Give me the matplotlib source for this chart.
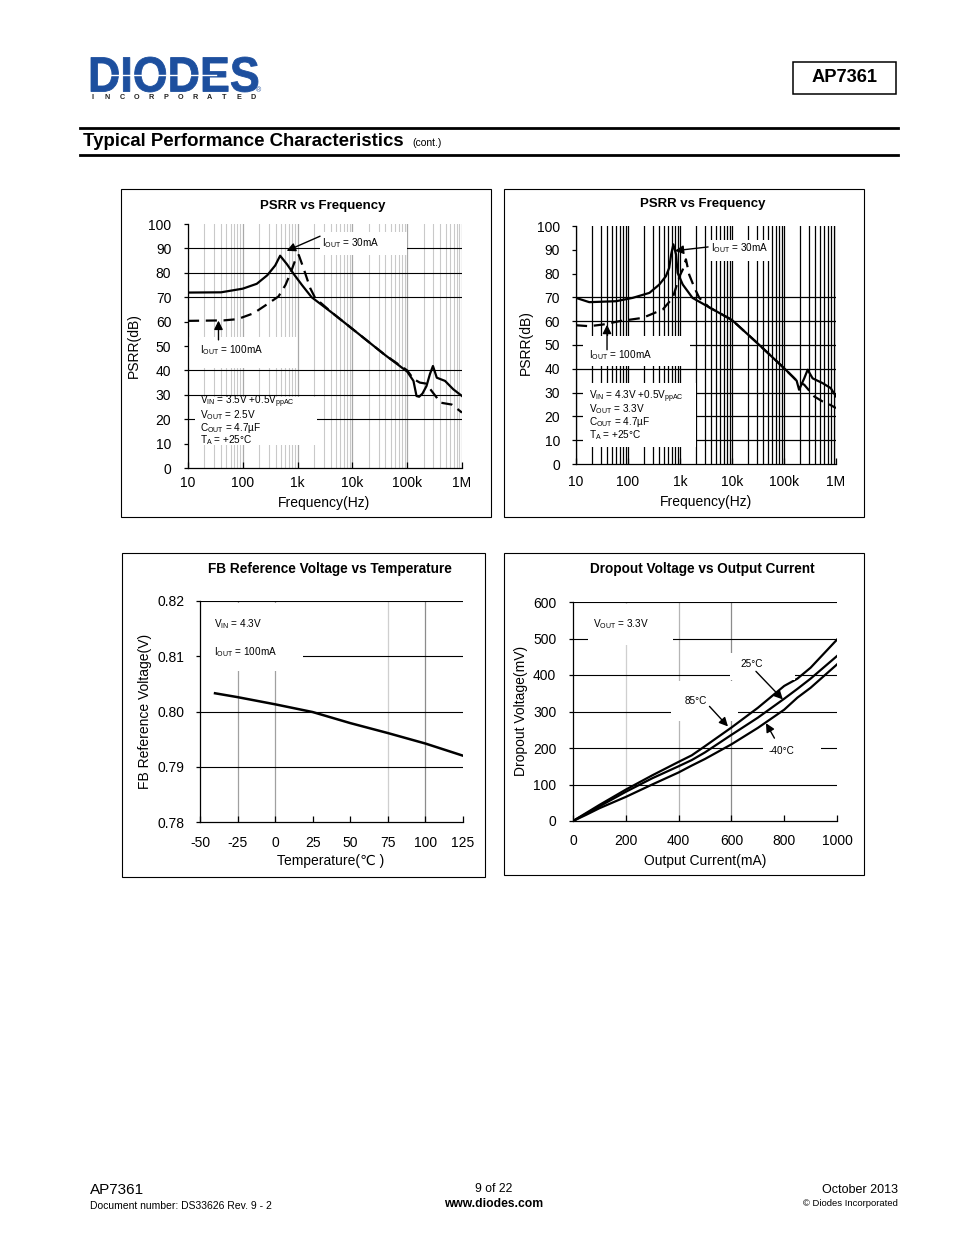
import numpy as np
import matplotlib
matplotlib.use('Agg')
import matplotlib.pyplot as plt
from matplotlib.patches import Rectangle, PathPatch
from matplotlib.lines import Line2D
from matplotlib.textpath import TextPath
from matplotlib.font_manager import FontProperties
from matplotlib.transforms import Affine2D

plt.rcParams['font.family'] = ['Liberation Sans', 'DejaVu Sans']
plt.rcParams['mathtext.fontset'] = 'custom'
plt.rcParams['mathtext.rm'] = 'Liberation Sans'
plt.rcParams['mathtext.default'] = 'regular'
plt.rcParams['axes.unicode_minus'] = False

# ---- data ----
freq_ticks = [10, 100, 1e3, 1e4, 1e5, 1e6]
freq_labels = ['10', '100', '1k', '10k', '100k', '1M']

# PSRR, Vout = 2.5V
f1_30 = [10, 40, 100, 180, 280, 390, 480, 640, 850, 1200, 1800, 4500, 10000, 40000,
         100000, 130000, 148000, 165000, 190000, 225000, 260000, 295000, 347000,
         490000, 690000, 1000000]
psrr1_30 = [71.9, 72.0, 73.5, 75.5, 79.0, 83.0, 87.0, 83.5, 79.5, 75.0, 70.0, 63.2, 57.0,
            46.2, 39.5, 35.7, 29.5, 29.2, 30.5, 33.6, 38.5, 41.8, 37.0, 35.7, 32.3, 29.5]
f1_100 = [10, 45, 80, 157, 295, 448, 600, 740, 910, 1050, 1280, 1700, 2100, 4500, 10000,
          40000, 100000, 130000, 170000, 220000, 270000, 347000, 400000, 650000, 1000000]
psrr1_100 = [60.3, 60.5, 61.0, 63.4, 67.5, 70.3, 75.0, 79.8, 85.3, 87.3, 81.9, 73.7, 69.6,
             63.2, 57.0, 46.2, 40.0, 36.5, 35.0, 34.6, 32.0, 28.8, 26.8, 26.0, 22.7]
grid1 = [20, 30, 40, 70, 80, 90]

# PSRR, Vout = 3.3V
f2_30 = [10, 18, 59, 123, 258, 400, 535, 620, 675, 745, 840, 900, 1130, 1740, 3600, 10000,
         30000, 100000, 150000, 175000, 195000, 245000, 285000, 355000, 550000, 790000, 1000000]
psrr2_30 = [69.8, 68.0, 68.4, 69.8, 71.9, 75.4, 78.9, 82.4, 88.0, 92.3, 88.0, 80.3, 75.4,
            69.8, 65.9, 60.5, 51.0, 40.3, 36.5, 35.0, 31.2, 36.0, 39.6, 36.0, 34.0, 31.9, 28.4]
f2_100 = [10, 18, 33, 68, 191, 465, 725, 980, 1130, 1300, 1500, 1900, 2350, 3600, 10000,
          30000, 100000, 150000, 175000, 245000, 380000, 550000, 750000, 1000000]
psrr2_100 = [58.3, 57.9, 58.6, 60.0, 61.4, 64.9, 69.8, 78.9, 81.7, 86.0, 79.6, 74.0, 69.8,
             65.9, 60.5, 51.0, 40.3, 36.5, 35.0, 33.3, 28.4, 26.3, 25.0, 23.5]
grid2 = [10, 20, 30, 40, 50, 60, 70]

# FB reference voltage vs temperature
temp = [-40, -25, 0, 25, 50, 75, 100, 125]
vref = [0.8033, 0.8026, 0.8013, 0.7999, 0.7979, 0.7961, 0.7942, 0.7920]

# dropout voltage vs output current
iout = [0, 50, 100, 200, 300, 400, 450, 500, 600, 700, 800, 850, 900, 1000]
vdo_85 = [0, 22, 44, 86, 125, 162, 180, 205, 256, 310, 370, 390, 420, 497]
vdo_25 = [0, 20, 40, 80, 117, 150, 167, 188, 236, 283, 335, 362, 390, 452]
vdo_m40 = [0, 17, 35, 66, 100, 133, 152, 170, 210, 255, 305, 338, 365, 429]

W, H = 954, 1235
fig = plt.figure(figsize=(W / 100, H / 100), dpi=100)
blue = '#1d4f9e'
note = 7.2


def ax_px(x0, y0, x1, y1):
    return fig.add_axes([x0 / W, 1 - y1 / H, (x1 - x0) / W, (y1 - y0) / H])


def ftext(x, y, s, **kw):
    kw.setdefault('va', 'center')
    fig.text(x / W, 1 - y / H, s, **kw)


def frame(x0, y0, x1, y1, lw=0.8):
    fig.add_artist(Rectangle((x0 / W, 1 - y1 / H), (x1 - x0) / W, (y1 - y0) / H,
                             transform=fig.transFigure, fill=False, edgecolor='black', lw=lw))


def rule(x0, x1, y, lw):
    fig.add_artist(Line2D([x0 / W, x1 / W], [1 - y / H, 1 - y / H], color='black', lw=lw))


def cover(ax, x0, y0, x1, y1, z=1):
    # white text-box background, hides the grid under the labels
    ax.add_patch(Rectangle((x0 / W, 1 - y1 / H), (x1 - x0) / W, (y1 - y0) / H,
                           transform=fig.transFigure, facecolor='white', edgecolor='none', zorder=z))


def arrow(ax, tip, tail):
    ax.annotate('', xy=tip, xytext=tail,
                arrowprops=dict(arrowstyle='-|>', color='black', lw=1.0, mutation_scale=13,
                                shrinkA=0, shrinkB=0))


def style(ax, xpad, ypad, xin=True):
    for s in ['top', 'right']:
        ax.spines[s].set_visible(False)
    for s in ['left', 'bottom']:
        ax.spines[s].set_linewidth(0.9)
    ax.tick_params(axis='x', which='major', direction='in' if xin else 'out', length=4,
                   width=0.9, pad=xpad, labelsize=10)
    ax.tick_params(axis='x', which='minor', length=0)
    ax.tick_params(axis='y', direction='out', length=3, width=0.9, pad=ypad, labelsize=10)
    ax.set_axisbelow(True)


# ---- header ----
fp = FontProperties(family='Liberation Sans', weight='bold')
tp = TextPath((0, 0), 'DIODES', size=100, prop=fp)
bb = tp.get_extents()
tr = Affine2D().translate(-bb.x0, -bb.y0).scale(167 / bb.width, 35 / bb.height).translate(91, H - 92)
fig.add_artist(PathPatch(tp, transform=tr, facecolor=blue, edgecolor=blue, lw=0.6))
fig.add_artist(Line2D([104 / W, 216 / W], [1 - 74.5 / H] * 2, color='white', lw=1.0))
for i, ch in enumerate('INCORPORATED'):
    ftext(93 + i * 14.6, 97.5, ch, fontsize=5.2, fontweight='bold', ha='center', color='#222222')
ftext(259, 91, '®', fontsize=5, color=blue, ha='center')

frame(793, 62, 896, 94, lw=1.1)
ftext(844.5, 78, 'AP7361', fontsize=13.2, fontweight='bold', ha='center')
rule(80, 898, 127.5, 2.0)
rule(80, 898, 154.5, 2.0)
ftext(83, 141, 'Typical Performance Characteristics', fontsize=13.4, fontweight='bold', ha='left')
ftext(412, 142.5, '(cont.)', fontsize=7.5, ha='left')

# ---- chart 1: PSRR vs Frequency (2.5V) ----
frame(121, 189, 491, 517)
ax1 = ax_px(188, 224, 462, 468)
ax1.set_xscale('log')
ax1.set_xlim(10, 1e6)
ax1.set_ylim(0, 100)
ax1.set_xticks(freq_ticks)
ax1.set_xticklabels(freq_labels)
ax1.set_yticks(range(0, 101, 10))
style(ax1, 6, 9)
ax1.grid(axis='x', which='minor', color='#c9c9c9', lw=0.8)
ax1.grid(axis='x', which='major', color='#a9a9a9', lw=0.9)
for g in grid1:
    ax1.axhline(g, color='black', lw=0.8, zorder=0.6)
cover(ax1, 320, 232, 407, 255)
cover(ax1, 189, 337, 297, 368)
cover(ax1, 195, 397, 317, 445)
ax1.plot(f1_30, psrr1_30, color='black', lw=1.6, zorder=2)
ax1.plot(f1_100, psrr1_100, color='black', lw=1.6, ls=(0, (5, 3)), zorder=2)
arrow(ax1, (631, 89.0), (2570, 95.0))
arrow(ax1, (36, 60.4), (36, 52.5))
ftext(322, 243, 'I$_{\\rm OUT}$ = 30mA', fontsize=note, ha='left')
ftext(200, 350, 'I$_{\\rm OUT}$ = 100mA', fontsize=note, ha='left')
ftext(200, 402, 'V$_{\\rm IN}$ = 3.5V +0.5V$_{\\rm ppAC}$', fontsize=note, ha='left')
ftext(200, 415.5, 'V$_{\\rm OUT}$ = 2.5V', fontsize=note, ha='left')
ftext(200, 428, 'C$_{\\rm OUT}$ = 4.7µF', fontsize=note, ha='left')
ftext(200, 440.5, 'T$_{\\rm A}$ = +25°C', fontsize=note, ha='left')
ftext(323, 206, 'PSRR vs Frequency', fontsize=9.5, fontweight='bold', ha='center')
ftext(134, 346, 'PSRR(dB)', fontsize=10, rotation=90, ha='center')
ftext(324, 503, 'Frequency(Hz)', fontsize=10, ha='center')

# ---- chart 2: PSRR vs Frequency (3.3V) ----
frame(504, 189, 864, 517)
ax2 = ax_px(576, 226, 836, 464)
ax2.set_xscale('log')
ax2.set_xlim(10, 1e6)
ax2.set_ylim(0, 100)
ax2.set_xticks(freq_ticks)
ax2.set_xticklabels(freq_labels)
ax2.set_yticks(range(0, 101, 10))
style(ax2, 8, 8.5)
ax2.grid(axis='x', which='both', color='black', lw=0.9)
for g in grid2:
    ax2.axhline(g, color='black', lw=0.9, zorder=0.6)
cover(ax2, 708, 240, 771, 261)
cover(ax2, 583, 336, 690, 366)
cover(ax2, 583, 383, 696, 447)
ax2.plot(f2_30, psrr2_30, color='black', lw=1.6, zorder=2)
ax2.plot(f2_100, psrr2_100, color='black', lw=1.6, ls=(0, (5, 3)), zorder=2)
arrow(ax2, (794, 89.6), (3470, 91.2))
arrow(ax2, (39.5, 58.5), (39.5, 48.0))
ftext(711, 248, 'I$_{\\rm OUT}$ = 30mA', fontsize=note, ha='left')
ftext(589, 355, 'I$_{\\rm OUT}$ = 100mA', fontsize=note, ha='left')
ftext(589, 396.5, 'V$_{\\rm IN}$ = 4.3V +0.5V$_{\\rm ppAC}$', fontsize=note, ha='left')
ftext(589, 409.5, 'V$_{\\rm OUT}$ = 3.3V', fontsize=note, ha='left')
ftext(589, 422, 'C$_{\\rm OUT}$ = 4.7µF', fontsize=note, ha='left')
ftext(589, 435, 'T$_{\\rm A}$ = +25°C', fontsize=note, ha='left')
ftext(703, 204, 'PSRR vs Frequency', fontsize=9.5, fontweight='bold', ha='center')
ftext(526, 343, 'PSRR(dB)', fontsize=10, rotation=90, ha='center')
ftext(706, 502, 'Frequency(Hz)', fontsize=10, ha='center')

# ---- chart 3: FB reference voltage vs temperature ----
frame(122, 553, 485, 877)
ax3 = ax_px(200, 601, 463, 822)
ax3.set_xlim(-50, 125)
ax3.set_ylim(0.78, 0.82)
ax3.set_xticks(range(-50, 126, 25))
ax3.set_yticks([0.78, 0.79, 0.80, 0.81, 0.82])
ax3.set_yticklabels(['0.78', '0.79', '0.80', '0.81', '0.82'])
style(ax3, 10, 8)
for g in [0.79, 0.80, 0.81, 0.82]:
    ax3.axhline(g, color='black', lw=0.8, zorder=0.6)
for xv, c in zip([-25, 0, 75, 100], ['#a0a0a0', '#a0a0a0', '#cfcfcf', '#8c8c8c']):
    ax3.axvline(xv, color=c, lw=0.9, zorder=0.5)
cover(ax3, 201, 603, 303, 671)
ax3.plot(temp, vref, color='black', lw=1.8, zorder=2)
ftext(214, 624, 'V$_{\\rm IN}$ = 4.3V', fontsize=note, ha='left')
ftext(214, 652, 'I$_{\\rm OUT}$ = 100mA', fontsize=note, ha='left')
ftext(330, 569, 'FB Reference Voltage vs Temperature', fontsize=9.8, fontweight='bold', ha='center')
ftext(145, 711, 'FB Reference Voltage(V)', fontsize=10, rotation=90, ha='center')
ftext(331, 861, 'Temperature(℃ )', fontsize=10, ha='center')

# ---- chart 4: dropout voltage vs output current ----
frame(504, 553, 864, 875)
ax4 = ax_px(573, 602, 837, 821)
ax4.set_xlim(0, 1000)
ax4.set_ylim(0, 600)
ax4.set_xticks(range(0, 1001, 200))
ax4.set_yticks(range(0, 601, 100))
style(ax4, 9.5, 9)
for g in range(100, 601, 100):
    ax4.axhline(g, color='black', lw=0.8, zorder=0.6)
for xv, c in zip([200, 400, 600], ['#cfcfcf', '#b5b5b5', '#8c8c8c']):
    ax4.axvline(xv, color=c, lw=0.9, zorder=0.5)
cover(ax4, 588, 604, 673, 645)
cover(ax4, 671, 681, 738, 721)
cover(ax4, 730, 653, 795, 680, z=2.2)
cover(ax4, 763, 740, 821, 760)
ax4.plot(iout, vdo_85, color='black', lw=1.6, zorder=2)
ax4.plot(iout, vdo_25, color='black', lw=1.6, zorder=2)
ax4.plot(iout, vdo_m40, color='black', lw=1.6, zorder=2)
arrow(ax4, (795, 333), (693, 410))
arrow(ax4, (587, 259), (517, 314))
arrow(ax4, (731, 268), (763, 227))
ftext(593, 624, 'V$_{\\rm OUT}$ = 3.3V', fontsize=note, ha='left')
ftext(752, 664, '25°C', fontsize=note, ha='center')
ftext(696, 701, '85°C', fontsize=note, ha='center')
ftext(781, 751, '-40°C', fontsize=note, ha='center')
ftext(702, 569, 'Dropout Voltage vs Output Current', fontsize=9.8, fontweight='bold', ha='center')
ftext(521, 711, 'Dropout Voltage(mV)', fontsize=10, rotation=90, ha='center')
ftext(705, 861, 'Output Current(mA)', fontsize=10, ha='center')

# ---- footer ----
ftext(90, 1190, 'AP7361', fontsize=11, ha='left')
ftext(90, 1206, 'Document number: DS33626 Rev. 9 - 2', fontsize=7.5, ha='left')
ftext(494, 1189, '9 of 22', fontsize=8.7, ha='center')
ftext(494, 1204, 'www.diodes.com', fontsize=8.7, fontweight='bold', ha='center')
ftext(898, 1190, 'October 2013', fontsize=9, ha='right')
ftext(898, 1204, '© Diodes Incorporated', fontsize=6.8, ha='right')

fig.savefig('out.png', dpi=100)
